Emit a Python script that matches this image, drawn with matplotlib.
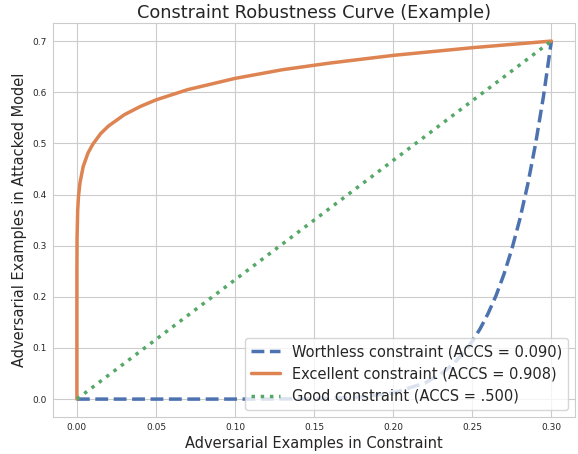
import numpy as np
import matplotlib
matplotlib.use('Agg')
import matplotlib.pyplot as plt
import seaborn as sns

# values
x_worthless=[0.0,0.05,0.10,0.12,0.15,0.18,0.20,0.22,0.23,0.235,0.24,0.245,0.25,0.255,0.26,0.265,0.27,0.275,0.28,0.285,0.29,0.295,0.30]
y_worthless=[0.0,0.0,0.00001,0.00007,0.0007,0.0042,0.0121,0.0314,0.0491,0.0609,0.0752,0.0924,0.113,0.1378,0.1675,0.2023,0.244,0.2933,0.351,0.419,0.499,0.592,0.70]

x_excellent=[0.0,1e-7,1e-5,1e-4,5e-4,0.001,0.002,0.004,0.007,0.01,0.015,0.02,0.03,0.04,0.05,0.07,0.10,0.13,0.16,0.20,0.25,0.30]
y_excellent=[0.0,0.158,0.250,0.314,0.369,0.396,0.424,0.455,0.481,0.498,0.519,0.534,0.556,0.572,0.585,0.605,0.627,0.644,0.657,0.672,0.687,0.70]

x_good=[0.0,0.30]
y_good=[0.0,0.70]

labels=['Worthless constraint (ACCS = 0.090)',
        'Excellent constraint (ACCS = 0.908)',
        'Good constraint (ACCS = .500)']

sns.set_style('whitegrid')
plt.rcParams['font.family']=['DejaVu Sans']

fig,ax=plt.subplots(figsize=(5.78,4.54),dpi=100)
c=sns.color_palette('deep')
ax.plot(x_worthless,y_worthless,'--',color=c[0],lw=2.5,label=labels[0])
ax.plot(x_excellent,y_excellent,'-',color=c[1],lw=2.5,label=labels[1])
ax.plot(x_good,y_good,':',color=c[2],lw=2.5,label=labels[2])

ax.set_title('Constraint Robustness Curve (Example)',fontsize=12.8,pad=4)
ax.set_xlabel('Adversarial Examples in Constraint',fontsize=10.5,labelpad=3)
ax.set_ylabel('Adversarial Examples in Attacked Model',fontsize=10.5)
ax.tick_params(labelsize=6.5,length=0,pad=4.5)
ax.legend(loc='lower right',fontsize=10.5)

fig.subplots_adjust(left=0.092,right=0.995,top=0.949,bottom=0.0815)
fig.savefig('out.png',dpi=100)
